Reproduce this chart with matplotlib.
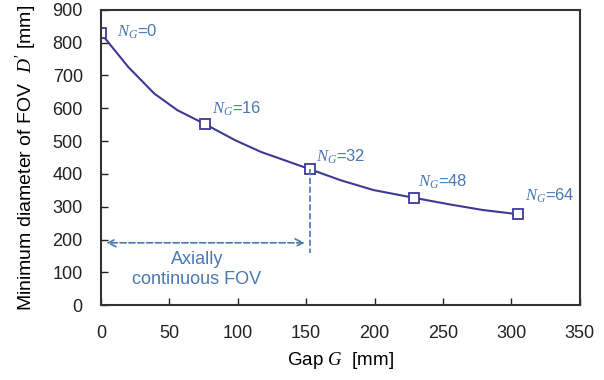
import matplotlib
matplotlib.use("Agg")
import matplotlib.pyplot as plt

plt.rcParams['font.family'] = ['Liberation Sans', 'DejaVu Sans']
plt.rcParams['mathtext.fontset'] = 'custom'
plt.rcParams['mathtext.it'] = 'Liberation Serif:italic'
plt.rcParams['mathtext.rm'] = 'Liberation Sans'

# data
curve_gap = [0, 20, 39, 56, 76, 98, 117, 134, 153, 175, 199, 229, 255, 279, 305]
curve_d = [829, 726, 645, 594, 552, 503, 467, 442, 414, 381, 351, 327, 307, 290, 277]
marker_gap = [0, 76, 153, 229, 305]
marker_d = [829, 552, 414, 327, 277]
marker_labels = ["0", "16", "32", "48", "64"]
label_pos = [(12, 833), (81, 600), (157, 451), (232, 375), (310, 333)]

line_color = '#3c3a96'
note_color = '#4a78b4'

fig = plt.figure(figsize=(6.04, 3.80), dpi=100)
ax = fig.add_axes([0.167, 0.197, 0.793, 0.777])

ax.plot(curve_gap, curve_d, color=line_color, lw=1.5)
ax.plot(marker_gap, marker_d, ls='none', marker='s', ms=7, mfc='white',
        mec=line_color, mew=1.3)

for lab, (x, y) in zip(marker_labels, label_pos):
    ax.text(x, y, r'$N_G$=' + lab, color=note_color, fontsize=12,
            ha='left', va='center')

# dashed guides
ax.plot([153, 153], [414, 158], color=note_color, ls='--', lw=1.2)
ax.annotate('', xy=(2, 190), xytext=(151, 190),
            arrowprops=dict(arrowstyle='<->', color=note_color, ls='--',
                            lw=1.2, mutation_scale=14))
ax.text(70, 108, 'Axially\ncontinuous FOV', color=note_color, fontsize=13,
        ha='center', va='center', linespacing=1.2)

ax.set_xlim(0, 350)
ax.set_ylim(0, 900)
ax.set_xticks(range(0, 351, 50))
ax.set_yticks(range(0, 901, 100))
ax.tick_params(direction='in', labelsize=13, length=5, width=1, colors='#222222')
ax.tick_params(axis='y', pad=13)
ax.tick_params(axis='x', pad=14)
for s in ax.spines.values():
    s.set_linewidth(1.5)
    s.set_color('#333333')

ax.set_xlabel(r'Gap $G$  [mm]', fontsize=13.5, labelpad=6)
ax.set_ylabel(r"Minimum diameter of FOV  $D'$ [mm]", fontsize=14, labelpad=10)

fig.savefig('out.png', dpi=100)
